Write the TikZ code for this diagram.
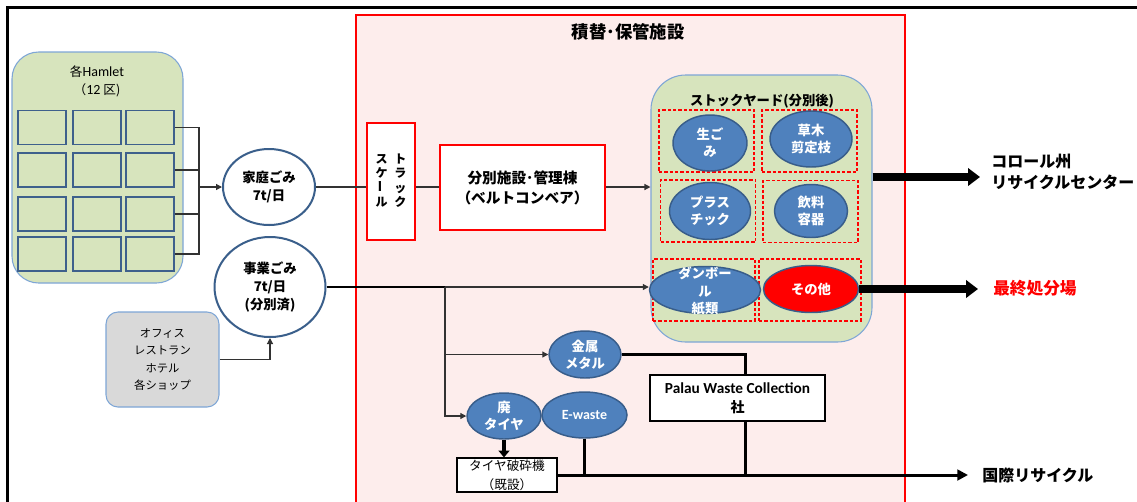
\documentclass[tikz,border=0pt]{standalone}
\usepackage{fontspec}
\usepackage{graphicx}
\setmainfont{Noto Sans CJK JP}
\newfontfamily\lat{Carlito}
\usetikzlibrary{shapes.geometric,arrows.meta}
\definecolor{lgreen}{RGB}{215,228,189}
\definecolor{hblue}{RGB}{126,166,214}
\definecolor{cellblue}{RGB}{62,96,140}
\definecolor{eblue}{RGB}{58,95,139}
\definecolor{bfill}{RGB}{79,129,189}
\definecolor{bborder}{RGB}{56,93,138}
\definecolor{pinkfill}{RGB}{253,237,236}
\definecolor{officegray}{RGB}{217,217,217}
\definecolor{lineg}{RGB}{50,50,50}
\definecolor{dashred}{RGB}{255,0,0}
\newcommand{\myfs}[2]{\fontsize{#1}{#2}\selectfont}
\begin{document}
\begin{tikzpicture}[x=0.75pt,y=-0.75pt,
  hamletbox/.style={draw=hblue, fill=lgreen, rounded corners=20pt, line width=0.8pt, inner sep=0},
  cell/.style={draw=cellblue, fill=lgreen, line width=1.1pt, minimum width=36pt, minimum height=25.5pt, inner sep=0},
  wellipse/.style={ellipse, draw=eblue, fill=white, line width=1.5pt, inner sep=0, align=center, font=\myfs{10}{13.5}\bfseries},
  bellipse/.style={ellipse, draw=bborder, fill=bfill, line width=1.1pt, inner sep=0, text=white, align=center, font=\myfs{10}{12.75}\bfseries},
  redbox/.style={draw=red, fill=white, line width=1.5pt, inner sep=0, align=center},
  dbox/.style={draw=dashred, dash pattern=on 2.5pt off 1.5pt, line width=0.8pt, inner sep=0, minimum width=71.25pt, minimum height=46.5pt},
  blackbox/.style={draw=black, fill=white, inner sep=0, align=center},
  conn/.style={draw=lineg, line width=0.9pt},
  arr/.style={-{Triangle[length=4.5pt,width=4.5pt]}},
  thickline/.style={draw=black, line width=2.25pt},
  bigarrow/.style={draw=black, line width=5.5pt, -{Triangle[length=9pt,width=13pt]}},
  lbl/.style={inner sep=0, align=left, anchor=west}
]
\useasboundingbox (0,0) rectangle (1137,501);
\clip (0,0) rectangle (1137,501);
\fill[white] (0,0) rectangle (1137,501);
% outer frame
\draw[line width=2.25pt] (7,7) rectangle (1160,520);
% facility
\draw[draw=red, fill=pinkfill, line width=1.5pt] (356,15) rectangle (905,520);
\node[inner sep=0, font=\myfs{13}{15}\bfseries] (title) at (628,32) {積替･保管施設};

% Hamlet
\node[hamletbox, minimum width=128.25pt, minimum height=173.25pt] (hamlet) at (97.5,167.5) {};
\node[inner sep=0, align=center, font=\myfs{9.5}{13.5}] (hamletlbl) at (97,81) {各{\lat\myfs{10.5}{13.5}Hamlet}\\（{\lat\myfs{10.5}{13.5}12} 区)};
\foreach \r/\y in {1/127.5,2/170,3/214,4/254}{
  \foreach \c/\x in {1/42,2/97,3/150}{
    \node[cell] (r\r\c) at (\x,\y) {};
  }
}
\coordinate (jx) at (199,187);
\draw[conn] (r13.east) -| (jx);
\draw[conn] (r23.east) -| (jx);
\draw[conn] (r33.east) -| (jx);
\draw[conn] (r43.east) -| (jx);

\node[wellipse, minimum width=69pt, minimum height=57pt] (katei) at (269,187) {家庭ごみ\\7t/日};
\node[wellipse, minimum width=83.25pt, minimum height=75pt] (jigyo) at (270,287) {事業ごみ\\7t/日\\(分別済)};
\draw[conn, arr] (jx) -- (katei.west);

\node[draw=hblue, fill=officegray, rounded corners=9pt, line width=0.8pt, minimum width=84.75pt, minimum height=71.25pt, inner sep=0, align=center, font=\myfs{8.5}{13}] (office) at (162.5,359.5) {オフィス\\レストラン\\ホテル\\各ショップ};
\draw[conn, arr] (office.east) -| (jigyo.south);

% truck scale
\node[redbox, minimum width=36pt, minimum height=87.75pt] (truck) at (391,181.5) {};
\node[inner sep=0, font=\myfs{9}{10}\bfseries] (trucklbl) at (391,182) {\renewcommand{\arraystretch}{0.86}\begin{tabular}{@{}c@{\hspace{5pt}}c@{}}ス&ト\\ケ&ラ\\\rotatebox{90}{ー}&ッ\\ル&ク\end{tabular}};
\node[redbox, minimum width=123.75pt, minimum height=63.75pt, font=\myfs{11}{15}\bfseries] (bunbetsu) at (522.5,187.5) {分別施設･管理棟\\（ベルトコンベア）};

% stock yard
\node[hamletbox, rounded corners=26pt, minimum width=165.75pt, minimum height=200.25pt] (yard) at (761.5,208.5) {};
\node[inner sep=0, font=\myfs{10}{12}\bfseries] (yardlbl) at (762,101) {ストックヤード(分別後)};
\node[dbox] (d1) at (706.5,141) {};
\node[dbox] (d2) at (809.5,141) {};
\node[dbox] (d3) at (708,211) {};
\node[dbox] (d4) at (810.5,211.5) {};
\node[dbox, minimum width=76.5pt] (d5) at (704,290) {};
\node[dbox, minimum width=76.5pt] (d6) at (810,290) {};
\node[bellipse, minimum width=55.5pt, minimum height=42pt] (e1) at (710,143) {生ご\\み};
\node[bellipse, minimum width=61.5pt, minimum height=42pt] (e2) at (811,139) {草木\\剪定枝};
\node[bellipse, minimum width=60.75pt, minimum height=42.75pt] (e3) at (710,211) {プラス\\チック};
\node[bellipse, minimum width=54.75pt, minimum height=39.75pt] (e4) at (811,211) {飲料\\容器};
\node[bellipse, minimum width=83.25pt, minimum height=35.25pt] (e5) at (705,290) {};
\node[inner sep=0, text=white, align=center, font=\myfs{10}{13}\bfseries] (e5lbl) at (705,291) {ダンボー\\ル\\紙類};
\node[bellipse, fill=red, minimum width=71.25pt, minimum height=35.25pt] (e6) at (811,289) {その他};

% connections main
\draw[conn] (katei.east) -- (katei.east -| truck.west);
\draw[conn] (katei.east -| truck.east) -- (katei.east -| bunbetsu.west);
\draw[conn, arr] (katei.east -| bunbetsu.east) -- (katei.east -| yard.west);

\coordinate (br) at (445,287);
\draw[draw=black, line width=1.3pt] (jigyo.east) -- (br);
\draw[conn, arr] (br) -- (br -| e5.west);

% outputs right
\coordinate (kor) at (980,177);
\draw[bigarrow] (kor -| yard.east) -- (kor);
\node[lbl, font=\myfs{12}{15.75}\bfseries] (korlbl) at (991,172) {コロール州\\リサイクルセンター};
\coordinate (sai) at (978,289);
\draw[bigarrow] (e6.east) -- (sai);
\node[lbl, text=red, font=\myfs{12.5}{15}\bfseries] (sailbl) at (993,288) {最終処分場};

% lower part
\node[bellipse, minimum width=54pt, minimum height=35.25pt] (metal) at (585,354.5) {金属\\メタル};
\node[bellipse, minimum width=55.5pt, minimum height=34.5pt] (tire) at (504,416) {廃\\タイヤ};
\node[bellipse, minimum width=63.75pt, minimum height=34.5pt, font=\lat\myfs{10.5}{12}\bfseries] (ewaste) at (584.5,415) {E-waste};
\draw[conn, arr] (br) |- (metal.west);
\draw[conn, arr] (br) |- (tire.west);

\node[blackbox, line width=1.2pt, minimum width=131.25pt, minimum height=34.5pt, font=\myfs{10.5}{14}\bfseries] (palau) at (737.5,398) {{\lat\myfs{11.5}{14}\bfseries Palau\ Waste\ Collection}\\社};
\node[blackbox, line width=0.9pt, minimum width=75pt, minimum height=25.5pt, font=\myfs{9.5}{14}] (crusher) at (507,475) {タイヤ破砕機\\（既設）};

\coordinate (pv) at (745,0);
\draw[thickline] (metal.east) -| (pv |- palau.north);
\draw[thickline] (pv |- palau.south) -- (pv |- crusher.east);
\draw[draw=black, line width=3pt, -{Triangle[length=5pt,width=8pt]}] (tire.south) -- (tire.south |- crusher.north);
\draw[thickline] (ewaste.south) -- (ewaste.south |- crusher.east);
\coordinate (kk) at (968,475);
\draw[thickline, -{Triangle[length=8pt,width=8pt]}] (crusher.east) -- (kk);
\node[lbl, font=\myfs{12}{15}\bfseries] (kklbl) at (982,475) {国際リサイクル};
\end{tikzpicture}
\end{document}
